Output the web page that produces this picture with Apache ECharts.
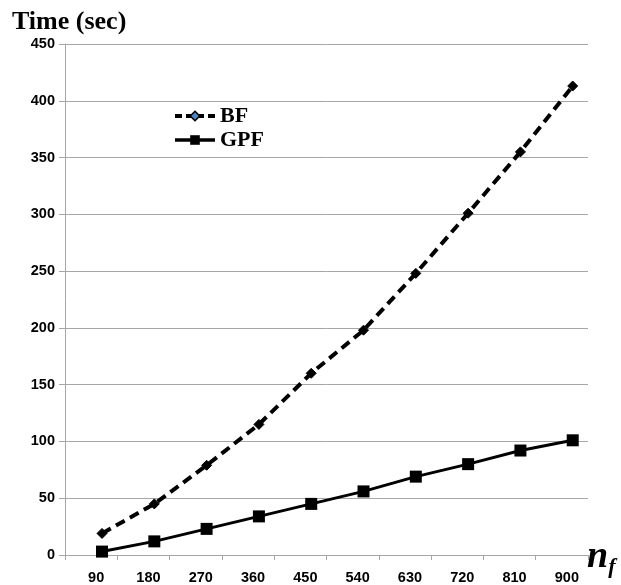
<!DOCTYPE html>
<html><head><meta charset="utf-8">
<script src="https://cdn.jsdelivr.net/npm/echarts@6/dist/echarts.min.js"></script>
<style>html,body{margin:0;padding:0;background:#fff}#c{width:621px;height:585px}</style>
</head><body><div id="c"></div>
<script>
var categories = ['90','180','270','360','450','540','630','720','810','900'];
var xValues = [90,180,270,360,450,540,630,720,810,900];
var bfValues = [19,45,79,115,160,198,248,301,355,413];
var gpfValues = [3,12,23,34,45,56,69,80,92,101];
var yTicks = [0,50,100,150,200,250,300,350,400,450];

function pairs(xs, ys){ return xs.map(function(x,i){ return [x, ys[i]]; }); }

var chart = echarts.init(document.getElementById('c'));
var grey = '#a6a6a6';
var tickFont = {fontFamily: 'Liberation Sans', fontWeight: 'bold', fontSize: 14.5, color: '#000'};
chart.setOption({
  animation: false,
  backgroundColor: '#fff',
  grid: {left: 65, right: 33, top: 44, bottom: 30, containLabel: false},
  title: {text: 'Time (sec)', left: 7, top: 4,
    textStyle: {fontFamily: 'Liberation Serif', fontWeight: 'bold', fontSize: 26, color: '#000'}},
  legend: {
    left: 168, top: 100, orient: 'vertical', itemGap: 2, itemWidth: 40, itemHeight: 12,
    textStyle: {fontFamily: 'Liberation Serif', fontWeight: 'bold', fontSize: 22, color: '#000'},
    data: [
      {name: 'BF', itemStyle: {color: '#4f81bd', borderColor: '#000', borderWidth: 1.5},
        lineStyle: {width: 4, color: '#000', type: [7,4]}},
      {name: 'GPF', lineStyle: {width: 3.5, color: '#000'}}
    ]
  },
  xAxis: [{
    type: 'category', data: categories, boundaryGap: true, position: 'bottom',
    axisLine: {lineStyle: {color: grey, width: 1}},
    axisTick: {show: true, inside: false, length: 5, alignWithLabel: false, lineStyle: {color: grey}},
    axisLabel: Object.assign({margin: 15, padding: [0,0,0,10]}, tickFont),
    splitLine: {show: false}
  },{
    type: 'value', min: 26.3, max: 926.3, show: false, position: 'bottom'
  }],
  yAxis: {
    type: 'value', min: 0, max: 450, interval: 50,
    axisLine: {show: true, lineStyle: {color: grey, width: 1}},
    axisTick: {show: true, length: 6, lineStyle: {color: grey}},
    axisLabel: Object.assign({margin: 10,
      formatter: function(v){ return yTicks.indexOf(v) >= 0 ? String(v) : ''; }}, tickFont),
    splitLine: {show: true, lineStyle: {color: grey, width: 1}}
  },
  series: [{
    name: 'BF', type: 'line', xAxisIndex: 1, data: pairs(xValues, bfValues),
    symbol: 'diamond', symbolSize: 10,
    lineStyle: {color: '#000', width: 4, type: [10,6]},
    itemStyle: {color: '#000', borderColor: '#000', borderWidth: 1},
    z: 3
  },{
    name: 'GPF', type: 'line', xAxisIndex: 1, data: pairs(xValues, gpfValues),
    symbol: 'rect', symbolSize: 12,
    lineStyle: {color: '#000', width: 3},
    itemStyle: {color: '#000', borderColor: '#000', borderWidth: 0},
    z: 3
  }],
  graphic: [{
    type: 'text', left: 587, top: 538,
    style: {
      text: '{n|n}{f|f}',
      rich: {
        n: {fontFamily: 'Liberation Serif', fontStyle: 'italic', fontWeight: 'bold', fontSize: 38, fill: '#000'},
        f: {fontFamily: 'Liberation Serif', fontStyle: 'italic', fontWeight: 'bold', fontSize: 22, fill: '#000', padding: [20,0,0,0]}
      }
    }
  }]
});
</script></body></html>
